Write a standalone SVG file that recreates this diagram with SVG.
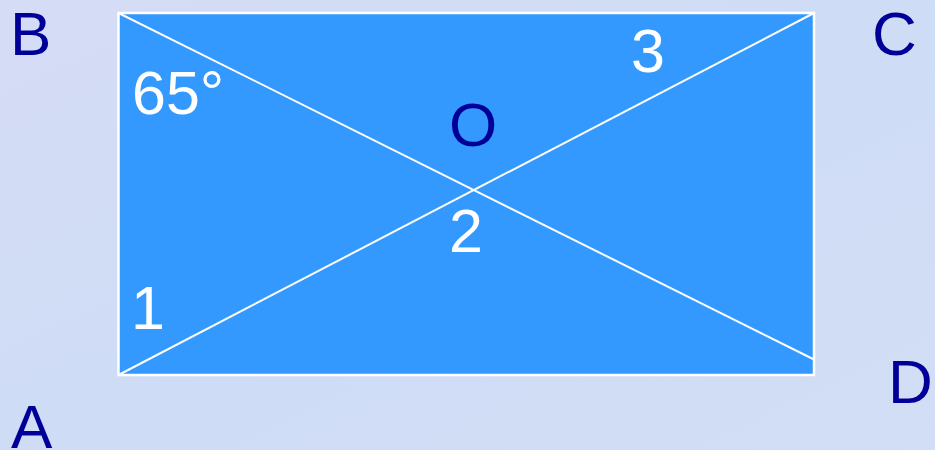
<svg xmlns="http://www.w3.org/2000/svg" width="935" height="450" viewBox="0 0 935 450">
<defs>
<linearGradient id="bg" x1="0" y1="0" x2="1" y2="1">
<stop offset="0" stop-color="#d6dcf5"/>
<stop offset="0.5" stop-color="#cfdcf6"/>
<stop offset="1" stop-color="#d2def5"/>
</linearGradient>
</defs>
<style>
.pt{font-family:"Liberation Sans",Arial,sans-serif;font-size:62px;fill:#000099}
.ang{font-family:"Liberation Sans",Arial,sans-serif;font-size:61px;fill:#ffffff}
.edge{stroke:#ffffff;stroke-width:2;fill:none}
</style>
<rect x="0" y="0" width="935" height="450" fill="url(#bg)"/>
<g id="rect">
<rect x="118.5" y="13" width="695.5" height="362" fill="#3399ff" stroke="#ffffff" stroke-width="2.5"/>
</g>
<g id="connectors">
<line class="edge" x1="118.5" y1="13" x2="814" y2="359.5"/>
<line class="edge" x1="118.5" y1="375" x2="814" y2="13"/>
</g>
<g id="A"><text class="pt" x="11" y="448">A</text></g>
<g id="B"><text class="pt" x="10" y="55">B</text></g>
<g id="C"><text class="pt" x="872" y="55">C</text></g>
<g id="D"><text class="pt" x="888" y="403">D</text></g>
<g id="O"><text class="pt" x="449" y="146">O</text></g>
<g id="labels">
<text class="ang" x="132" y="114">65°</text>
<text class="ang" x="131" y="329">1</text>
<text class="ang" x="449" y="252">2</text>
<text class="ang" x="631" y="72">3</text>
</g>
</svg>
